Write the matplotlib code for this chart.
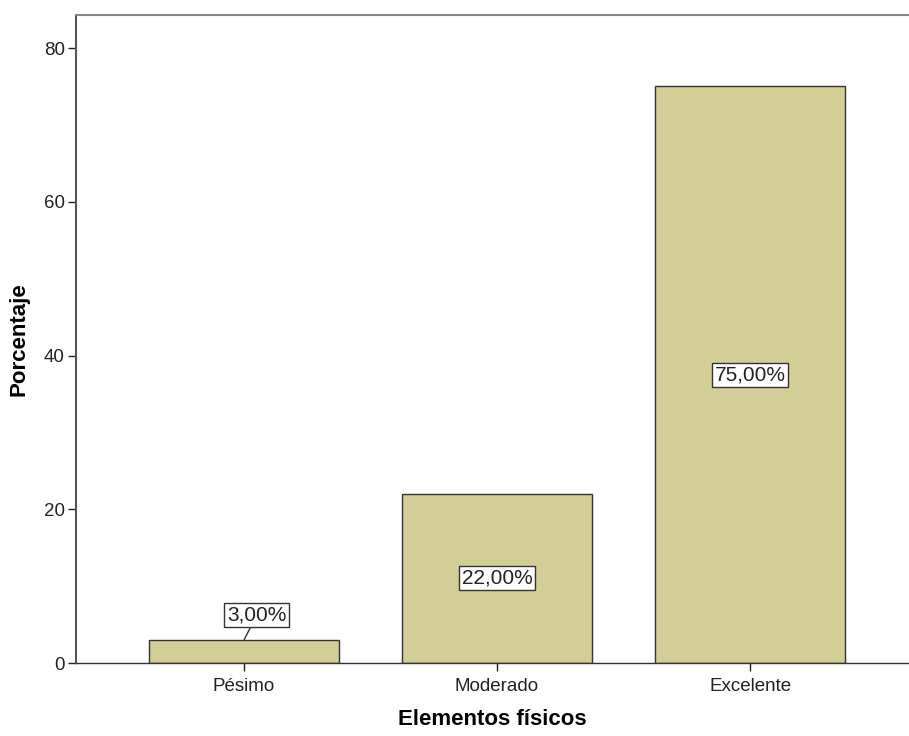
import matplotlib.pyplot as plt

categorias = ["Pésimo", "Moderado", "Excelente"]
porcentajes = [3.0, 22.0, 75.0]
etiquetas = ["3,00%", "22,00%", "75,00%"]

plt.rcParams['font.family'] = ['Liberation Sans', 'DejaVu Sans']

fig = plt.figure(figsize=(9.09, 7.36), dpi=100)
ax = fig.add_axes([76 / 909, 1 - 663 / 736, 1 - 76 / 909, (663 - 15) / 736])

pos = list(range(len(categorias)))
ax.bar(pos, porcentajes, width=0.75, color="#d3ce96", edgecolor="#333333", linewidth=1.0, zorder=2)

ax.set_xlim(-0.664, 2.628)
ax.set_ylim(0, 84.3)
ax.set_yticks([0, 20, 40, 60, 80])
ax.set_xticks(pos)
ax.set_xticklabels(categorias)
ax.tick_params(axis="both", labelsize=13.5, colors="#222222", length=6, width=1)
ax.tick_params(axis="x", pad=5)
ax.tick_params(axis="y", pad=2)

ax.spines["right"].set_visible(False)
ax.spines["left"].set_color("#555555")
ax.spines["left"].set_linewidth(1.5)
ax.spines["top"].set_color("#888888")
ax.spines["top"].set_linewidth(1.5)
ax.spines["bottom"].set_color("#333333")
ax.spines["bottom"].set_linewidth(1.0)

ax.set_ylabel("Porcentaje", fontsize=16, fontweight="bold", labelpad=10)
ax.set_xlabel("Elementos físicos", fontsize=16, fontweight="bold", labelpad=10)

caja = dict(boxstyle="square,pad=0.12", facecolor="white", edgecolor="#333333", linewidth=1.0)
for x, v, t in zip(pos, porcentajes, etiquetas):
    if v < 10:
        ax.annotate(t, xy=(x, v), xytext=(x + 0.05, v + 3.2), ha="center", va="center",
                    fontsize=15, color="#222222", bbox=caja,
                    arrowprops=dict(arrowstyle="-", color="#333333", lw=1.0, shrinkA=0, shrinkB=0))
    else:
        ax.text(x, v / 2, t, ha="center", va="center", fontsize=15, color="#222222", bbox=caja, zorder=3)

fig.savefig("out.png", dpi=100)
